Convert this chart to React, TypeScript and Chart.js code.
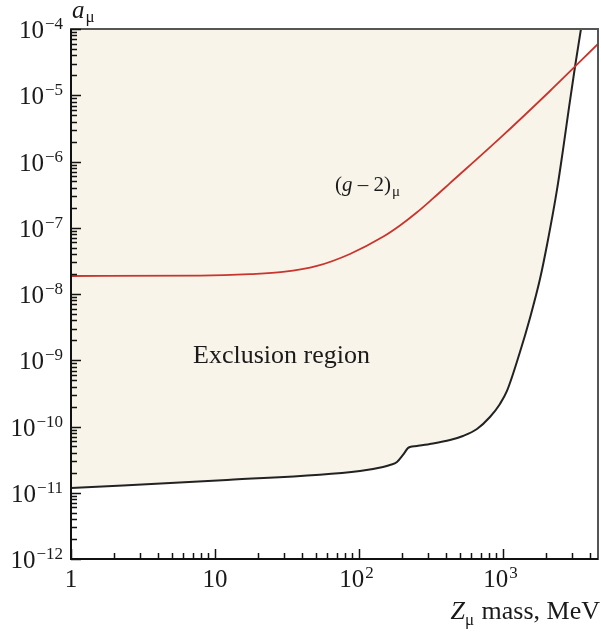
import React, { useEffect, useRef } from "react";
import { Chart, registerables } from "chart.js";

Chart.register(...registerables);

// Z_mu mass (MeV) and coupling a_mu for the (g-2)_mu curve
const massG2 = [1, 7.87, 17.5, 29.6, 51.1, 86.6, 146.8, 192.6, 252.9, 326.6, 428.7, 953, 2120, 4570];
const aG2 = [1.87e-8, 1.9e-8, 2.0e-8, 2.15e-8, 2.65e-8, 4.02e-8, 7.29e-8, 1.08e-7, 1.71e-7, 2.77e-7, 4.71e-7, 2.25e-6, 1.16e-5, 5.94e-5];

// exclusion boundary
const massExcl = [1, 12.1, 101.6, 146.8, 164, 183.6, 202, 219, 226, 252.9, 311, 428.7, 527.5, 659.8, 812, 953, 1066, 1312, 1540, 1807, 2053, 2371, 2610, 2872, 3162, 3480];
const aExcl = [1.18e-11, 1.56e-11, 2.13e-11, 2.45e-11, 2.62e-11, 2.91e-11, 3.72e-11, 4.73e-11, 4.91e-11, 5.08e-11, 5.45e-11, 6.25e-11, 7.19e-11, 9.17e-11, 1.39e-10, 2.19e-10, 3.44e-10, 1.33e-9, 4.35e-9, 1.68e-8, 6.53e-8, 3.72e-7, 1.49e-6, 6.43e-6, 2.67e-5, 1e-4];

const xMin = 1;
const xMax = 4570;
const yMin = 1e-12;
const yMax = 1e-4;
const xDecades = [1, 10, 100, 1000];
const xExponents = [0, 1, 2, 3];
const yExponents = [-12, -11, -10, -9, -8, -7, -6, -5, -4];

const SERIF = "'Liberation Serif', 'DejaVu Serif', serif";
const MINUS = "\u2212";

const decoPlugin = {
  id: "deco",
  afterDatasetsDraw(chart: any) {
    const ctx = chart.ctx;
    ctx.save();
    ctx.fillStyle = "#1a1a1a";
    ctx.textBaseline = "alphabetic";
    ctx.textAlign = "left";
    // Exclusion region
    ctx.font = `26px ${SERIF}`;
    ctx.fillText("Exclusion region", 193, 363);
    // (g - 2)_mu
    let x = 335;
    const by = 191;
    ctx.font = `21px ${SERIF}`;
    ctx.fillText("(", x, by);
    x += ctx.measureText("(").width;
    ctx.font = `italic 21px ${SERIF}`;
    ctx.fillText("g", x, by);
    x += ctx.measureText("g").width;
    ctx.font = `21px ${SERIF}`;
    const rest = " " + "\u2013" + " 2)";
    ctx.fillText(rest, x, by);
    x += ctx.measureText(rest).width;
    ctx.font = `15px ${SERIF}`;
    ctx.fillText("\u03bc", x + 1, by + 5);
    ctx.restore();
  },
  afterDraw(chart: any) {
    const ctx = chart.ctx;
    const xs = chart.scales.x;
    const ys = chart.scales.y;
    const { left, right, top, bottom } = chart.chartArea;
    ctx.save();
    // frame
    ctx.strokeStyle = "#555";
    ctx.lineWidth = 2;
    ctx.strokeRect(left, top, right - left, bottom - top);
    ctx.strokeStyle = "#111";
    ctx.beginPath();
    ctx.moveTo(left, top);
    ctx.lineTo(left, bottom);
    ctx.lineTo(right, bottom);
    ctx.stroke();
    // ticks
    ctx.lineWidth = 1.5;
    ctx.strokeStyle = "#111";
    ctx.beginPath();
    yExponents.forEach((e) => {
      const base = Math.pow(10, e);
      const py = Math.round(ys.getPixelForValue(base)) + 0.5;
      ctx.moveTo(left, py);
      ctx.lineTo(left + 10, py);
      if (e < -4) {
        for (let m = 2; m <= 9; m++) {
          const p = Math.round(ys.getPixelForValue(m * base)) + 0.5;
          ctx.moveTo(left, p);
          ctx.lineTo(left + 6, p);
        }
      }
    });
    xDecades.forEach((d) => {
      const px = Math.round(xs.getPixelForValue(d)) + 0.5;
      ctx.moveTo(px, bottom);
      ctx.lineTo(px, bottom - 10);
      for (let m = 2; m <= 9; m++) {
        const v = m * d;
        if (v > xMax) break;
        const p = Math.round(xs.getPixelForValue(v)) + 0.5;
        ctx.moveTo(p, bottom);
        ctx.lineTo(p, bottom - 6);
      }
    });
    ctx.stroke();

    // y labels
    ctx.fillStyle = "#1a1a1a";
    ctx.textBaseline = "alphabetic";
    ctx.textAlign = "left";
    yExponents.forEach((e) => {
      const py = ys.getPixelForValue(Math.pow(10, e));
      const expTxt = MINUS + String(Math.abs(e));
      ctx.font = `17px ${SERIF}`;
      const ew = ctx.measureText(expTxt).width;
      ctx.font = `25px ${SERIF}`;
      const bw = ctx.measureText("10").width;
      const rightEdge = 63;
      const ex = rightEdge - ew;
      const bx = ex - bw - 1;
      ctx.fillText("10", bx, py + 9);
      ctx.font = `17px ${SERIF}`;
      ctx.fillText(expTxt, ex, py);
    });
    // x labels
    xExponents.forEach((e) => {
      const px = xs.getPixelForValue(Math.pow(10, e));
      ctx.font = `25px ${SERIF}`;
      if (e === 0) {
        ctx.textAlign = "center";
        ctx.fillText("1", px, 587);
        ctx.textAlign = "left";
      } else if (e === 1) {
        ctx.textAlign = "center";
        ctx.fillText("10", px, 587);
        ctx.textAlign = "left";
      } else {
        const bw = ctx.measureText("10").width;
        ctx.font = `17px ${SERIF}`;
        const ew = ctx.measureText(String(e)).width;
        const start = px - (bw + ew) / 2 - 3;
        ctx.font = `25px ${SERIF}`;
        ctx.fillText("10", start, 587);
        ctx.font = `17px ${SERIF}`;
        ctx.fillText(String(e), start + bw + 1, 578);
      }
    });
    // y title a_mu
    ctx.font = `italic 25px ${SERIF}`;
    ctx.fillText("a", 72, 18);
    const aw = ctx.measureText("a").width;
    ctx.font = `17px ${SERIF}`;
    ctx.fillText("\u03bc", 72 + aw + 1, 22);
    // x title
    ctx.font = `italic 26px ${SERIF}`;
    const zw = ctx.measureText("Z").width;
    ctx.font = `17px ${SERIF}`;
    const mw = ctx.measureText("\u03bc").width;
    ctx.font = `26px ${SERIF}`;
    const tail = " mass, MeV";
    const tw = ctx.measureText(tail).width;
    let tx = 600 - (zw + mw + tw + 1);
    ctx.font = `italic 26px ${SERIF}`;
    ctx.fillText("Z", tx, 619);
    tx += zw;
    ctx.font = `17px ${SERIF}`;
    ctx.fillText("\u03bc", tx, 625);
    tx += mw + 1;
    ctx.font = `26px ${SERIF}`;
    ctx.fillText(tail, tx, 619);
    ctx.restore();
  },
};

export default function App() {
  const ref = useRef<HTMLCanvasElement>(null);
  useEffect(() => {
    if (!ref.current) return;
    const chart = new Chart(ref.current, {
      type: "line",
      data: {
        datasets: [
          {
            label: "(g-2)",
            data: massG2.map((m, i) => ({ x: m, y: aG2[i] })),
            borderColor: "#c8352e",
            borderWidth: 1.8,
            pointRadius: 0,
            fill: false,
            cubicInterpolationMode: "monotone",
            order: 0,
          },
          {
            label: "Exclusion",
            data: massExcl.map((m, i) => ({ x: m, y: aExcl[i] })),
            borderColor: "#222",
            borderWidth: 2,
            pointRadius: 0,
            fill: "end",
            backgroundColor: "#f9f4e9",
            cubicInterpolationMode: "monotone",
            order: 1,
          },
        ],
      },
      options: {
        animation: false,
        responsive: false,
        devicePixelRatio: 1,
        layout: { padding: { left: 71, right: 3, top: 29, bottom: 74 } },
        plugins: { legend: { display: false }, tooltip: { enabled: false } },
        scales: {
          x: {
            type: "logarithmic",
            min: xMin,
            max: xMax,
            ticks: { display: false },
            grid: { display: false, drawTicks: false },
            border: { display: false },
          },
          y: {
            type: "logarithmic",
            min: yMin,
            max: yMax,
            ticks: { display: false },
            grid: { display: false, drawTicks: false },
            border: { display: false },
          },
        },
      },
      plugins: [decoPlugin],
    });
    return () => chart.destroy();
  }, []);
  return (
    <div style={{ position: "fixed", left: 0, top: 0, width: 601, height: 633, background: "#fff" }}>
      <canvas ref={ref} width={601} height={633} style={{ display: "block" }} />
    </div>
  );
}
